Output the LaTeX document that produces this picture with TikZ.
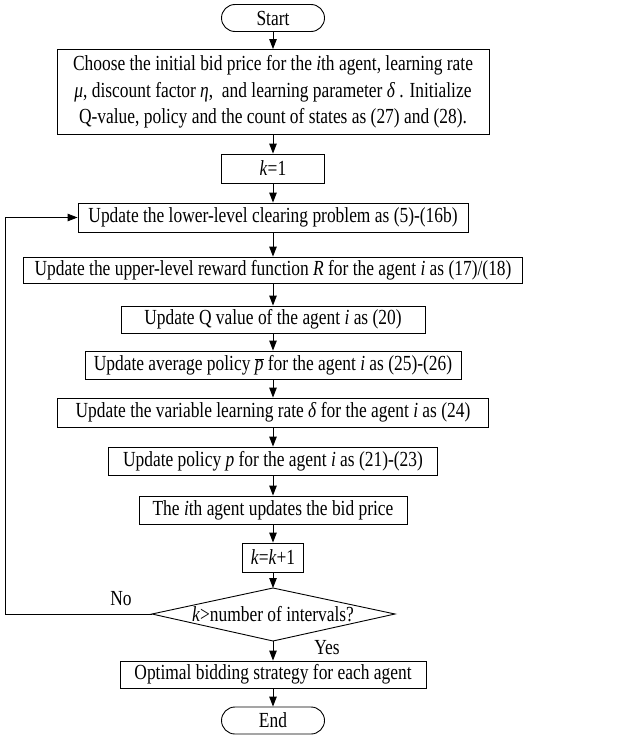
\documentclass[tikz,border=0pt]{standalone}
\usepackage{fontspec}
\setmainfont{Liberation Serif}[FakeStretch=0.81]
\usetikzlibrary{arrows.meta}
\begin{document}
\begin{tikzpicture}[x=1pt,y=-1pt,
  txt/.style={font=\fontsize{21.5}{26.7}\selectfont},
  box/.style={txt,draw,line width=0.9pt,inner sep=0pt,minimum width=#1,minimum height=28pt},
  term/.style={box=103pt,rounded corners=13.5pt,minimum height=27pt},
  arr/.style={line width=0.9pt,-{Triangle[length=10pt,width=7.5pt]}},
  ln/.style={line width=0.9pt}]
\useasboundingbox (0,0) rectangle (633,736);
\node[term] (start) at (273,18) {Start};
\node[box=432pt,minimum height=85pt,align=center] (init) at (273,92)
  {Choose the initial bid price for the \textit{i}th agent, learning rate\\
   \textit{μ}, discount factor \textit{η},\ \ and learning parameter \textit{δ} . Initialize\\
   Q-value, policy and the count of states as (27) and (28).};
\node[box=103pt,minimum height=29pt] (k1) at (273,168.5) {\textit{k}=1};
\node[box=390pt,minimum height=29pt] (lower) at (273,217.5) {Update the lower-level clearing problem as (5)-(16b)};
\node[box=499pt,minimum height=26pt] (upper) at (273,270) {Update the upper-level reward function \textit{R} for the agent \textit{i} as (17)/(18)};
\node[box=304pt,minimum height=27pt] (q) at (273,319.5) {Update Q value of the agent \textit{i} as (20)};
\node[box=376pt] (avg) at (273,365) {Update average policy $\overline{\textit{p}}$ for the agent \textit{i} as (25)-(26)};
\node[box=431pt,minimum height=29pt] (var) at (273,412.5) {Update the variable learning rate \textit{δ} for the agent \textit{i} as (24)};
\node[box=329pt] (pol) at (273,461) {Update policy \textit{p} for the agent \textit{i} as (21)-(23)};
\node[box=268pt] (ith) at (273,510) {The \textit{i}th agent updates the bid price};
\node[box=61pt,minimum height=29pt] (kk) at (273,557.5) {\textit{k}=\textit{k}+1};
\coordinate (dt) at (273,588);
\coordinate (db) at (273,641);
\coordinate (dl) at (152,614);
\coordinate (dr) at (395,614);
\draw[ln] (dt) -- (dr) -- (db) -- (dl) -- cycle;
\node[txt] (dec) at (273,614) {\textit{k}>number of intervals?};
\node[box=306pt,minimum height=27pt] (opt) at (273,674.5) {Optimal bidding strategy for each agent};
\node[term] (end) at (273,720.5) {End};
\node[txt] (no) at (121,599) {No};
\node[txt] (yes) at (327,648) {Yes};
\coordinate (lp) at (5,614);
\draw[arr] (start) -- (init);
\draw[arr] (init) -- (k1);
\draw[arr] (k1) -- (lower);
\draw[arr] (lower) -- (upper);
\draw[arr] (upper) -- (q);
\draw[arr] (q) -- (avg);
\draw[arr] (avg) -- (var);
\draw[arr] (var) -- (pol);
\draw[arr] (pol) -- (ith);
\draw[arr] (ith) -- (kk);
\draw[arr] (kk) -- (dt);
\draw[arr] (db) -- (opt);
\draw[arr] (opt) -- (end);
\draw[arr] (dl) -- (lp) |- (lower.west);
\end{tikzpicture}
\end{document}
